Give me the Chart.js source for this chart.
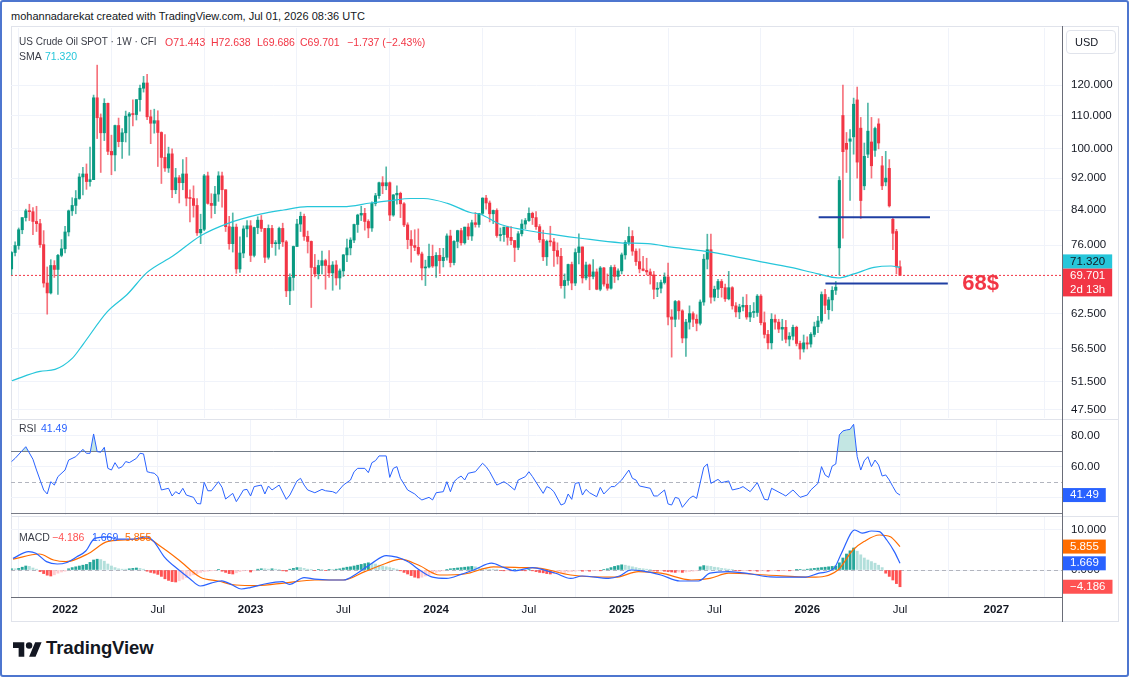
<!DOCTYPE html>
<html>
<head>
<meta charset="utf-8">
<title>US Crude Oil SPOT 1W</title>
<script src="https://cdn.jsdelivr.net/npm/chart.js@4.4.1/dist/chart.umd.min.js"></script>
<style>
    html, body { margin: 0; padding: 0; background: #fff; }
    #wrap { position: relative; width: 1129px; height: 677px; overflow: hidden; font-family: "Liberation Sans", Arial, sans-serif; color: #131722; }
    #frame { position: absolute; left: 0; top: 0; width: 1125px; height: 673px; border: 2px solid #4d76cf; border-radius: 3px; }
    #box { position: absolute; left: 11px; top: 26px; width: 1106px; height: 594px; border: 1px solid #e0e3eb; }
    canvas { position: absolute; left: 0; }
    .t { position: absolute; white-space: pre; font-size: 10.5px; line-height: 14px; }
    .lab { color: #3a3d47; }
    .line { position: absolute; }
    .red { color: #f23645; }
    #usd { position: absolute; left: 1066px; top: 30px; width: 48px; height: 22px; border: 1px solid #e0e3eb; border-radius: 4px; font-size: 11px; line-height: 22px; text-indent: 8px; }
    #logo { position: absolute; left: 13px; top: 642px; }
    #logotext { position: absolute; left: 46px; top: 637px; font-size: 18.5px; font-weight: bold; letter-spacing: -0.1px; }
</style>
</head>
<body>
<div id="wrap">
    <div id="frame"></div>
    <div id="box"></div>
    <canvas id="price" width="1129" height="393" style="top:26px"></canvas>
    <canvas id="rsi" width="1129" height="97" style="top:419px"></canvas>
    <canvas id="macd" width="1129" height="107" style="top:516px"></canvas>

    <div class="line" style="left:11px;top:419px;width:1108px;height:1px;background:#e0e3eb"></div>
    <div class="line" style="left:11px;top:516px;width:1108px;height:1px;background:#e0e3eb"></div>
    <div class="line" style="left:11px;top:597px;width:1051px;height:1px;background:#6a6d78"></div>
    <div class="line" style="left:1062px;top:26px;width:1px;height:596px;background:#6a6d78"></div>

    <div class="t" style="left:11px;top:9px;font-size:11px">mohannadarekat created with TradingView.com, Jul 01, 2026 08:36 UTC</div>
    <div class="t lab" style="left:19px;top:35px;font-size:10px">US Crude Oil SPOT · 1W · CFI</div>
    <div class="t red" style="left:165px;top:35px">O71.443</div>
    <div class="t red" style="left:211px;top:35px">H72.638</div>
    <div class="t red" style="left:257px;top:35px">L69.686</div>
    <div class="t red" style="left:300px;top:35px">C69.701</div>
    <div class="t red" style="left:347px;top:35px">−1.737 (−2.43%)</div>
    <div class="t lab" style="left:19px;top:49px">SMA</div>
    <div class="t" style="left:45px;top:49px;color:#26c6da">71.320</div>
    <div id="usd">USD</div>

    <div class="t lab" style="left:19px;top:421px">RSI</div>
    <div class="t" style="left:41px;top:421px;color:#2962ff">41.49</div>

    <div class="t lab" style="left:19px;top:530px">MACD</div>
    <div class="t" style="left:52px;top:530px;color:#ff5252">−4.186</div>
    <div class="t" style="left:92px;top:530px;color:#2962ff">1.669</div>
    <div class="t" style="left:125px;top:530px;color:#ff6d00">5.855</div>

    <svg id="logo" width="29" height="15" viewBox="0 4 36 18"><path d="M14 22H7V11H0V4h14v18zM28 22h-8l7.5-18h8L28 22z" fill="#131722"/><circle cx="20" cy="8" r="4" fill="#131722"/></svg>
    <div id="logotext">TradingView</div>
</div>
<script>
// time axis: week 0 = week of Sep 20, 2021
const tickWeeks = [15, 41, 67, 93, 119, 145, 171, 197, 223, 249, 276]
const tickLabels = ['2022', 'Jul', '2023', 'Jul', '2024', 'Jul', '2025', 'Jul', '2026', 'Jul', '2027']
const priceTicks = [120, 110, 100, 92, 84, 76, 62.5, 56.5, 51.5, 47.5]

// weekly candles [open, high, low, close]
const candles2021 = [
    [71.0, 74.6, 69.8, 74.4], [74.4, 76.7, 73.7, 75.9], [75.9, 79.8, 75.1, 79.4], [79.4, 82.2, 78.5, 82.2], [82.2, 84.2, 81.4, 83.8],
    [83.8, 85.4, 81.5, 83.6], [83.6, 84.6, 78.3, 81.3], [81.3, 84.9, 79.0, 80.8], [80.8, 81.8, 75.5, 76.1], [76.1, 79.2, 67.4, 68.2],
    [68.2, 71.4, 62.4, 66.3], [66.3, 72.9, 66.1, 71.7], [71.7, 72.7, 69.3, 70.9], [70.9, 74.0, 66.0, 73.8], [73.8, 77.2, 73.5, 75.2]
]
const candles2022 = [
    [75.2, 80.2, 74.3, 78.9], [78.9, 84.0, 78.0, 83.8], [83.8, 87.0, 82.7, 85.1], [85.1, 88.8, 83.1, 86.8], [86.8, 93.2, 86.6, 92.3],
    [92.3, 94.9, 87.7, 93.1], [93.1, 95.8, 89.1, 91.1], [91.1, 100.5, 89.9, 91.6], [91.6, 116.6, 91.6, 115.7], [115.7, 127.0, 103.0, 109.3],
    [109.3, 110.5, 93.5, 104.7], [104.7, 115.4, 102.4, 113.9], [113.9, 114.0, 98.4, 99.3], [99.3, 104.0, 92.9, 98.3], [98.3, 107.0, 93.9, 106.9],
    [106.9, 109.2, 100.6, 102.1], [102.1, 106.0, 97.3, 104.7], [104.7, 111.4, 102.0, 109.8], [109.8, 111.0, 98.2, 110.5], [110.5, 115.0, 106.8, 110.3],
    [110.3, 115.1, 108.6, 115.1], [115.1, 120.0, 111.4, 118.9], [118.9, 123.0, 117.6, 120.7], [120.7, 123.7, 108.7, 109.6], [109.6, 111.7, 101.5, 107.6],
    [107.6, 112.0, 104.6, 108.4], [108.4, 111.5, 95.1, 104.8], [104.8, 105.0, 90.6, 97.6], [97.6, 104.2, 93.8, 94.7], [94.7, 100.5, 93.5, 98.6],
    [98.6, 100.0, 87.0, 89.0], [89.0, 94.6, 88.0, 92.1], [92.1, 92.7, 85.7, 90.8], [90.8, 97.0, 89.0, 93.1], [93.1, 97.6, 85.0, 86.9],
    [86.9, 89.0, 81.2, 86.8], [86.8, 90.0, 82.3, 85.1], [85.1, 86.8, 78.1, 78.7], [78.7, 83.0, 76.3, 79.5], [79.5, 93.0, 79.2, 92.6],
    [92.6, 93.6, 85.4, 85.6], [85.6, 88.0, 82.1, 85.1], [85.1, 89.9, 83.1, 87.9], [87.9, 93.7, 86.1, 92.6], [92.6, 93.6, 84.7, 89.0],
    [89.0, 89.0, 79.0, 80.1], [80.1, 82.5, 75.1, 76.3], [76.3, 83.3, 74.5, 80.0], [80.0, 80.7, 70.1, 71.0], [71.0, 77.8, 70.3, 74.3],
    [74.3, 80.3, 73.3, 79.6], [79.6, 81.5, 77.8, 80.3]
]
const candles2023 = [
    [80.3, 81.5, 72.5, 73.8], [73.8, 80.0, 73.5, 79.9], [79.9, 82.4, 78.5, 81.6], [81.6, 82.7, 79.0, 79.7], [79.7, 79.7, 72.3, 73.4],
    [73.4, 80.5, 73.0, 79.7], [79.7, 80.4, 75.5, 76.3], [76.3, 77.0, 73.8, 76.3], [76.3, 80.0, 75.1, 79.7], [79.7, 80.9, 75.7, 76.7],
    [76.7, 77.0, 65.6, 66.7], [66.7, 70.0, 64.1, 69.3], [69.3, 75.8, 66.8, 75.7], [75.7, 81.8, 75.7, 80.7], [80.7, 83.5, 79.0, 82.5],
    [82.5, 83.0, 77.0, 77.9], [77.9, 79.1, 74.3, 76.8], [76.8, 76.9, 63.6, 71.3], [71.3, 74.0, 69.4, 70.0], [70.0, 72.8, 69.0, 71.7],
    [71.7, 74.7, 70.0, 72.7], [72.7, 73.0, 67.0, 71.7], [71.7, 74.8, 69.3, 70.2], [70.2, 72.5, 66.8, 71.8], [71.8, 72.7, 67.8, 69.2],
    [69.2, 71.0, 67.0, 70.6], [70.6, 74.0, 69.5, 73.9], [73.9, 77.3, 72.5, 75.4], [75.4, 77.6, 73.9, 77.1], [77.1, 80.7, 76.5, 80.6],
    [80.6, 83.0, 78.8, 82.8], [82.8, 84.9, 81.5, 83.2], [83.2, 84.4, 79.3, 81.3], [81.3, 81.7, 77.6, 79.8], [79.8, 86.0, 79.0, 85.6],
    [85.6, 88.1, 85.0, 87.5], [87.5, 91.0, 86.8, 90.8], [90.8, 92.4, 88.0, 90.0], [90.0, 95.0, 89.0, 90.8], [90.8, 91.0, 81.5, 82.8],
    [82.8, 87.8, 82.5, 87.7], [87.7, 90.0, 85.4, 88.1], [88.1, 88.4, 82.2, 85.5], [85.5, 85.8, 80.1, 80.5], [80.5, 81.0, 75.2, 77.2],
    [77.2, 79.2, 72.4, 75.9], [75.9, 79.4, 74.8, 75.5], [75.5, 79.6, 73.8, 74.1], [74.1, 74.5, 68.8, 71.2], [71.2, 72.8, 67.7, 71.4],
    [71.4, 76.2, 71.2, 73.6], [73.6, 76.0, 71.3, 71.6]
]
const candles2024 = [
    [71.6, 74.4, 69.3, 73.8], [73.8, 75.3, 70.1, 72.7], [72.7, 75.3, 71.4, 73.4], [73.4, 78.5, 72.8, 78.0], [78.0, 79.3, 71.4, 72.3],
    [72.3, 77.0, 71.8, 76.8], [76.8, 79.3, 75.4, 79.2], [79.2, 79.7, 76.0, 76.5], [76.5, 80.0, 76.2, 80.0], [80.0, 80.8, 77.2, 78.0],
    [78.0, 81.6, 77.0, 81.0], [81.0, 83.4, 80.0, 80.6], [80.6, 83.2, 80.0, 83.2], [83.2, 87.0, 82.9, 86.9], [86.9, 87.6, 84.2, 85.7],
    [85.7, 86.2, 81.2, 83.1], [83.1, 84.0, 80.8, 83.9], [83.9, 84.3, 77.7, 78.1], [78.1, 79.8, 76.9, 78.3], [78.3, 80.0, 76.8, 80.0],
    [80.0, 80.2, 76.0, 77.7], [77.7, 80.1, 76.1, 77.0], [77.0, 77.0, 72.5, 75.5], [75.5, 79.0, 75.0, 78.5], [78.5, 81.7, 78.0, 80.7],
    [80.7, 82.0, 79.6, 81.5], [81.5, 84.5, 81.3, 83.2], [83.2, 83.5, 80.6, 82.2], [82.2, 83.6, 79.5, 80.1], [80.1, 80.6, 76.6, 77.2],
    [77.2, 79.3, 72.7, 73.5], [73.5, 77.1, 71.7, 76.8], [76.8, 80.2, 75.8, 76.7], [76.7, 77.5, 71.5, 74.8], [74.8, 76.5, 72.0, 73.6],
    [73.6, 75.3, 67.2, 67.7], [67.7, 70.0, 65.3, 68.7], [68.7, 72.0, 67.8, 71.9], [71.9, 72.4, 66.9, 68.2], [68.2, 75.2, 67.7, 74.4],
    [74.4, 78.5, 72.0, 75.6], [75.6, 75.6, 68.2, 69.2], [69.2, 72.4, 68.8, 71.8], [71.8, 72.0, 66.9, 69.5], [69.5, 72.9, 69.0, 70.4],
    [70.4, 71.0, 66.9, 67.0], [67.0, 71.5, 66.7, 71.2], [71.2, 71.3, 67.6, 68.0], [68.0, 70.0, 66.8, 67.2], [67.2, 71.7, 67.0, 71.3],
    [71.3, 71.8, 68.3, 69.5], [69.5, 71.0, 68.8, 70.6], [70.6, 74.3, 70.0, 73.9]
]
const candles2025 = [
    [73.9, 77.0, 73.0, 76.6], [76.6, 80.0, 76.0, 77.9], [77.9, 79.2, 73.8, 74.7], [74.7, 75.2, 71.7, 72.5], [72.5, 75.2, 70.2, 71.0],
    [71.0, 73.6, 70.6, 70.7], [70.7, 73.2, 69.8, 70.4], [70.4, 71.0, 68.0, 69.8], [69.8, 70.5, 65.2, 67.0], [67.0, 68.3, 65.6, 67.2],
    [67.2, 68.8, 66.3, 68.3], [68.3, 70.2, 68.0, 69.4], [69.4, 72.2, 60.5, 61.9], [61.9, 63.2, 55.2, 61.5], [61.5, 64.9, 60.2, 64.7],
    [64.7, 64.9, 61.5, 63.0], [63.0, 63.2, 57.5, 58.3], [58.3, 61.5, 55.3, 61.0], [61.0, 63.9, 59.8, 62.5], [62.5, 62.8, 60.2, 61.5],
    [61.5, 62.3, 59.5, 60.8], [60.8, 65.0, 60.5, 64.6], [64.6, 74.0, 64.0, 73.0], [73.0, 78.4, 71.0, 75.0], [75.0, 78.4, 64.4, 65.5],
    [65.5, 67.6, 64.8, 67.0], [67.0, 68.9, 65.4, 68.5], [68.5, 68.9, 65.5, 67.3], [67.3, 68.0, 64.7, 65.2], [65.2, 70.5, 65.0, 67.3],
    [67.3, 67.5, 63.3, 63.9], [63.9, 64.5, 61.9, 62.8], [62.8, 64.2, 61.6, 63.7], [63.7, 65.5, 63.0, 64.0], [64.0, 66.0, 61.5, 61.9],
    [61.9, 64.0, 61.1, 62.7], [62.7, 64.5, 61.8, 62.7], [62.7, 66.0, 62.0, 65.7], [65.7, 66.0, 60.5, 60.9], [60.9, 62.8, 58.3, 58.9],
    [58.9, 59.6, 56.5, 57.5], [57.5, 62.5, 56.5, 61.5], [61.5, 62.3, 59.8, 61.0], [61.0, 61.5, 59.2, 59.8], [59.8, 61.5, 57.9, 60.1],
    [60.1, 61.3, 57.5, 58.1], [58.1, 59.2, 57.0, 58.6], [58.6, 60.5, 58.0, 60.1], [60.1, 60.3, 57.0, 57.4], [57.4, 57.8, 54.9, 56.5],
    [56.5, 58.8, 56.0, 57.5], [57.5, 58.5, 56.5, 57.3]
]
const candles2026 = [
    [57.3, 59.2, 56.8, 58.9], [58.9, 61.0, 58.5, 60.2], [60.2, 62.0, 59.2, 61.2], [61.2, 66.5, 60.8, 66.0], [66.0, 67.0, 62.5, 64.0],
    [63.2, 65.5, 61.5, 65.0], [65.0, 67.5, 63.0, 66.8], [66.8, 68.5, 66.0, 67.4], [75.4, 92.4, 69.8, 91.4], [110.0, 120.0, 77.5, 99.2],
    [101.6, 104.8, 93.5, 99.9], [102.2, 105.7, 86.3, 102.9], [103.5, 115.6, 98.5, 113.6], [115.0, 119.3, 92.0, 96.3], [106.1, 109.4, 82.0, 86.3],
    [90.0, 101.7, 89.0, 97.9], [98.5, 114.0, 97.5, 105.2], [102.0, 109.4, 92.0, 95.3], [99.6, 106.4, 97.9, 106.0], [107.4, 109.0, 100.0, 101.7],
    [95.3, 97.9, 89.0, 90.0], [91.0, 99.3, 90.0, 92.0], [94.6, 97.0, 84.7, 85.0], [81.8, 82.2, 75.0, 78.6], [79.0, 79.5, 70.0, 71.4],
    [71.443, 72.638, 69.686, 69.701]
]

// SMA (week, value)
const smaWeeks = [0.1, 8, 12.2, 17, 20.1, 26.8, 32.4, 38, 45.3, 52.9, 60.5, 69.7, 76.2, 82.9, 93, 100.6, 106.2, 111.8, 115.5, 122.2,
    128.6, 131.4, 137.1, 143.5, 153, 159.5, 170.7, 178.3, 185.6, 193.2, 199.6, 209.2, 218.4, 226, 231.6, 236.1, 241.7, 246.5, 249]
const smaValues = [51.6, 53.0, 53.3, 55.0, 57.3, 62.8, 66.0, 70.3, 73.7, 78.0, 80.8, 83.0, 84.0, 84.8, 84.8, 85.7, 86.3, 86.8, 86.8, 85.6,
    83.4, 83.0, 80.6, 79.4, 78.2, 77.5, 76.5, 76.3, 75.5, 74.8, 74.0, 72.6, 71.3, 70.0, 69.2, 70.0, 71.3, 71.6, 71.32]

// drawn levels
const levelPrices = [82.3, 68.1]
const levelFrom = [226.2, 228.1]
const levelTo = [257.4, 262.4]
const noteText = '68$'
const noteWeek = 271.6
const notePrice = 68.1

// RSI
const rsiWeeks = [0, 1, 4, 6, 7, 9, 10, 11, 12, 13, 15, 16, 18, 20, 21, 22, 23, 24, 25, 26,
    27, 28, 29, 30, 31, 32, 33, 35, 36, 37, 38, 39, 40, 41, 42, 44, 45, 46, 47, 48,
    49, 51, 52, 53, 54, 55, 56, 58, 59, 60, 62, 63, 64, 65, 66, 67, 68, 70, 71, 72,
    73, 75, 77, 78, 80, 81, 82, 83, 85, 87, 88, 90, 91, 93, 95, 96, 97, 99, 100, 101,
    102, 103, 105, 106, 107, 108, 109, 111, 113, 114, 115, 117, 118, 119, 121, 122, 123, 124, 125, 126,
    127, 128, 130, 132, 133, 134, 136, 138, 139, 141, 142, 144, 145, 146, 149, 150, 151, 152, 154, 155,
    156, 157, 158, 159, 160, 161, 162, 164, 165, 166, 168, 169, 171, 173, 174, 175, 176, 179, 180, 181,
    183, 184, 185, 186, 187, 188, 190, 191, 192, 194, 195, 196, 198, 199, 201, 202, 204, 205, 207, 209,
    210, 211, 212, 213, 216, 217, 219, 221, 223, 224, 226, 227, 228, 229, 230, 231, 232, 233, 234, 235,
    236, 237, 238, 239, 240, 241, 242, 243, 244, 245, 246, 247, 248, 249]
const rsiValues = [63.3, 65.4, 73, 64.8, 57.8, 44.8, 42.2, 50.2, 48, 53.5, 57.8, 64.3, 66.5, 71.3, 68.7, 68.7, 81.3, 69.8, 69.4, 72.6,
    58.9, 57.8, 62.6, 58.9, 60, 63.3, 62.6, 65.4, 68.7, 68.3, 56.7, 56.1, 55.7, 53.5, 44.8, 45.9, 40.9, 43.7, 42.2, 45.9,
    41.5, 40, 36, 35.7, 49.8, 44.3, 44.3, 50.2, 46.5, 38.9, 42.6, 37.2, 40.9, 44.8, 45.2, 40.9, 47, 48, 42.2, 47.4,
    44.8, 48, 38.7, 41.5, 50.7, 52.4, 48, 44.8, 43, 45.2, 44.3, 43.7, 42.6, 48, 51.3, 56.7, 58.9, 58.9, 56.1, 62.6,
    63.9, 67, 67, 53, 58.9, 60, 52.4, 44.8, 42.2, 40, 38.3, 40, 38.3, 43, 43.7, 50.2, 43.7, 50.2, 52.4, 53.9,
    51.3, 55.7, 56.7, 62.2, 60, 56.7, 48, 50.2, 48.7, 44.8, 51.3, 53.5, 56.7, 53.5, 42.6, 47, 45.9, 43.7, 35, 36,
    42.2, 38.7, 49.1, 49.6, 41.5, 45.2, 43, 40.4, 46.5, 42.2, 47, 47, 51.3, 57.8, 52.4, 51.3, 47.4, 45.9, 40.9, 40.9,
    44.8, 35.7, 35, 40, 39.3, 33.5, 39.3, 40.9, 39.3, 59.6, 61.7, 49.1, 51.7, 49.6, 50.7, 44.8, 45.9, 47, 43.7, 49.6,
    44.1, 38.7, 38.3, 45.9, 42.2, 40.9, 44.8, 40, 41.5, 44.8, 49.1, 60, 54.6, 53, 60.4, 61.7, 80.7, 83.3, 83.9, 84.3,
    87.6, 66.5, 57.8, 63.9, 66.5, 60, 64.3, 61.1, 53.9, 54.6, 51.3, 47, 43, 41.49]
const rsiBands = [70, 50, 30]

// MACD
const macdWeeks = [0.4, 4.8, 6.8, 9.8, 12.8, 15.3, 18.3, 20.8, 23.3, 26.8, 29.9, 33.8, 37.9, 39.9, 42.8, 46.9, 49.9, 52.9, 55.9, 58.9,
    61.9, 64.4, 66.9, 70.9, 75.9, 77.9, 82, 85, 89, 93, 96.9, 101, 105, 108, 111, 115, 118, 121.9, 126, 130,
    134.5, 138.1, 141.1, 146, 150.1, 152.5, 156.7, 159.9, 167.3, 170.4, 173.6, 176.7, 182, 187.3, 192.6, 195.7, 201, 207.3, 212.6, 222.1,
    226.3, 230.5, 232.6, 236.3, 238.4, 241, 243.2, 245.3, 247.4, 249]
const macdValues = [2.9, 4.6, 4.2, 2.1, 1.5, 1.8, 3.3, 4.75, 7.9, 8.3, 7.7, 7.7, 8.3, 7.1, 3.3, 0, -2.1, -4, -3.3, -2.7,
    -3.75, -4.75, -4.4, -3.5, -2.9, -3.6, -1.9, -2.3, -2.5, -2.5, -0.8, 1.7, 3.6, 3.2, 2.1, -0.4, -1.8, -2.1, -1.1, 0.2,
    1.7, 0.6, -0.2, 0.6, -0.2, -0.8, -2.1, -1.5, -2.1, -1.5, 0, -0.2, -1.25, -2.75, -2.75, -0.8, -0.4, -1, -1.7, -1.8,
    -0.8, 0.4, 4.2, 10, 9.2, 9.75, 9.6, 7.5, 4.6, 1.669]
const signalWeeks = [0.4, 7.8, 11.8, 15.3, 21.7, 26.8, 31.8, 37.9, 41.9, 46.9, 52.9, 57.9, 62.9, 68.9, 76.9, 85, 93, 99, 105, 109,
    114, 120, 127, 135.1, 143.1, 148.3, 156.7, 169.3, 175.7, 182, 190.5, 195.7, 201, 211.5, 224.2, 231.6, 235.8, 238.9, 243.2, 246.3, 249]
const signalValues = [2.7, 4, 2.5, 2.1, 4.2, 7.1, 7.5, 7.9, 5.8, 2.5, -1.8, -2.75, -3.75, -3.9, -3.2, -2.5, -2.5, -0.4, 1.7, 2.7,
    1.25, -1.25, -1, 0.8, 0.6, 0.4, -1.25, -1.8, -0.4, -0.8, -2.5, -2.1, -0.8, -1.25, -1.8, 0, 5, 7.1, 8.75, 8.3, 5.855]
const histValues = [
    0.3, 0.3, 0.4, 0.7, 1.0, 0.9, 0.5, 0.2, -0.4, -0.9,
    -1.3, -1.5, -1.2, -0.8, -0.5, -0.3, 0.3, 0.6, 0.8, 1.0,
    1.2, 1.4, 1.9, 2.5, 2.7, 2.6, 2.2, 1.5, 1.0, 0.6,
    0.3, 0.2, 0.2, 0.3, 0.4, 0.5, 0.4, 0.2, -0.3, -0.6,
    -0.8, -1.1, -1.6, -2.2, -2.6, -2.9, -3.0, -2.7, -2.3, -1.9,
    -1.5, -1.2, -0.9, -0.6, -0.4, -0.3, -0.2, -0.1, 0.1, -0.3,
    -0.6, -0.9, -1.0, -0.7, -0.4, -0.2, -0.1, -0.5, -0.2, 0.2,
    0.3, 0.3, 0.2, 0.3, 0.2, 0.1, -0.2, -0.3, 0.2, 0.4,
    0.6, 0.6, 0.4, 0.2, 0.1, -0.1, 0.1, 0.05, -0.1, 0.1,
    0.1, 0.2, 0.3, 0.5, 0.7, 0.8, 1.0, 1.2, 1.4, 1.6,
    1.8, 1.7, 1.5, 1.2, 1.0, 0.8, 0.6, 0.4, 0.2, -0.2,
    -0.6, -1.0, -1.4, -1.8, -2.0, -1.8, -1.5, -1.2, -0.9, -0.6,
    -0.4, -0.2, 0.1, 0.3, 0.4, 0.5, 0.6, 0.7, 0.8, 0.9,
    0.8, 0.6, 0.4, 0.3, 0.2, 0.2, 0.1, -0.1, -0.2, -0.1,
    -0.2, 0.1, 0.1, -0.1, -0.2, 0.1, -0.2, -0.4, -0.6, -0.7,
    -0.9, -1.0, -0.9, -0.8, -0.7, -0.6, -0.5, -0.4, -0.3, -0.2,
    -0.3, -0.2, -0.3, -0.2, -0.1, -0.2, 0.1, 0.3, 0.6, 0.9,
    1.1, 1.3, 1.2, 1.0, 0.8, 0.6, 0.4, 0.3, 0.2, 0.1,
    -0.2, -0.3, -0.2, -0.3, -0.4, -0.5, -0.6, -0.5, -0.6, -0.5,
    -0.4, -0.3, -0.2, 0.8, 1.1, 1.0, 0.9, 0.7, 0.6, 0.4,
    0.3, 0.2, 0.1, -0.1, -0.2, -0.2, -0.1, -0.2, -0.2, -0.3,
    -0.2, -0.2, -0.3, -0.2, -0.1, -0.2, -0.1, -0.1, -0.2, -0.1,
    0.05, 0.1, 0.1, 0.2, 0.3, 0.4, 0.5, 0.6, 0.7, 0.8,
    0.9, 1.0, 1.8, 3.0, 4.0, 4.8, 5.5, 4.7, 3.8, 3.0,
    2.5, 2.1, 1.7, 1.2, 0.6, -0.8, -1.6, -2.5, -3.4, -4.186
]

const ohlc = [...candles2021, ...candles2022, ...candles2023, ...candles2024, ...candles2025, ...candles2026]
const lastClose = ohlc[ohlc.length - 1][3]

const X_MIN = -0.15, X_MAX = 294.4
const FONT = '"Liberation Sans", Arial, sans-serif'
const GRID = '#f0f3fa'

Chart.defaults.font.family = FONT
Chart.defaults.font.size = 11.5
Chart.defaults.color = '#131722'
Chart.defaults.animation = false

const xAxis = labels => ({
    type: 'linear',
    min: X_MIN,
    max: X_MAX,
    offset: false,
    afterBuildTicks: s => { s.ticks = tickWeeks.map(v => ({ value: v })) },
    afterFit: s => {
        s.height = labels ? 25 : 0
        s.paddingLeft = 0
        s.paddingRight = 0
    },
    grid: { color: GRID, drawTicks: false },
    border: { display: false },
    ticks: {
        display: labels,
        autoSkip: false,
        maxRotation: 0,
        padding: 6,
        callback: (v, i) => tickLabels[i],
        font: c => ({ size: 11.5, weight: /^\d/.test(tickLabels[c.index] || '') ? 'bold' : 'normal' })
    }
})

const yTicks = (values, fmt) => ({
    position: 'right',
    afterBuildTicks: s => { s.ticks = values.map(v => ({ value: v })) },
    afterFit: s => {
        s.width = 57
        s.paddingTop = 0
        s.paddingBottom = 0
    },
    grid: { color: GRID, drawTicks: false },
    border: { display: false },
    ticks: { padding: 9, crossAlign: 'near', callback: fmt }
})

// horizontal guide lines (bands, zero line)
const guides = lines => ({
    id: 'guides',
    beforeDatasetsDraw(chart) {
        const { ctx, chartArea: a, scales: { y } } = chart
        lines.forEach(l => {
            const py = Math.round(y.getPixelForValue(l.value)) + 0.5
            ctx.save()
            ctx.strokeStyle = l.color
            ctx.lineWidth = 1
            ctx.setLineDash(l.dash || [])
            ctx.beginPath()
            ctx.moveTo(a.left, py)
            ctx.lineTo(a.right, py)
            ctx.stroke()
            ctx.restore()
        })
    }
})

// value tags on the price scale
const tags = list => ({
    id: 'tags',
    afterDraw(chart) {
        const { ctx, chartArea: a, scales: { y } } = chart
        const lh = 14
        let placed = []
        ctx.save()
        ctx.font = '11.5px ' + FONT
        ctx.textBaseline = 'middle'
        list.forEach(t => {
            const h = t.lines.length * lh
            let top = y.getPixelForValue(t.value) - lh / 2
            placed.forEach(p => {
                if (top < p.bottom - 3 && top + h > p.top + 3) top = p.top - h
            })
            const w = Math.max(...t.lines.map(s => ctx.measureText(s).width)) + 14
            ctx.fillStyle = t.bg
            ctx.fillRect(a.right + 1, top, w, h)
            ctx.fillStyle = t.fg
            t.lines.forEach((s, k) => ctx.fillText(s, a.right + 8, top + lh / 2 + k * lh))
            placed.push({ top, bottom: top + h })
        })
        ctx.restore()
    }
})

const note = {
    id: 'note',
    afterDatasetsDraw(chart) {
        const { ctx, scales: { x, y } } = chart
        ctx.save()
        ctx.font = 'bold 22px ' + FONT
        ctx.fillStyle = '#f23645'
        ctx.textAlign = 'center'
        ctx.textBaseline = 'middle'
        ctx.fillText(noteText, x.getPixelForValue(noteWeek), y.getPixelForValue(notePrice))
        ctx.restore()
    }
}

const isUp = c => c[3] >= c[0]

new Chart(document.getElementById('price'), {
    type: 'bar',
    data: {
        datasets: [
            {
                type: 'line',
                data: [{ x: X_MIN, y: lastClose }, { x: X_MAX, y: lastClose }],
                borderColor: '#f23645',
                borderWidth: 1,
                borderDash: [2, 2],
                pointRadius: 0,
                order: 5
            },
            {
                data: ohlc.map((c, i) => ({ x: i, y: [c[2], c[1]] })),
                backgroundColor: ohlc.map(c => isUp(c) ? 'rgba(8,153,129,0.7)' : 'rgba(242,54,69,0.7)'),
                barThickness: 1,
                grouped: false,
                order: 4
            },
            {
                data: ohlc.map((c, i) => ({ x: i, y: [c[0], c[3]] })),
                backgroundColor: ohlc.map(c => isUp(c) ? '#089981' : '#f23645'),
                barThickness: 2.4,
                minBarLength: 1,
                grouped: false,
                order: 3
            },
            {
                type: 'line',
                data: smaWeeks.map((w, i) => ({ x: w, y: smaValues[i] })),
                borderColor: '#26c6da',
                borderWidth: 1.2,
                pointRadius: 0,
                cubicInterpolationMode: 'monotone',
                order: 2
            },
            ...levelPrices.map((p, k) => ({
                type: 'line',
                data: [{ x: levelFrom[k], y: p }, { x: levelTo[k], y: p }],
                borderColor: '#1f3fa3',
                borderWidth: 2,
                pointRadius: 0,
                order: 1
            }))
        ]
    },
    options: {
        responsive: false,
        layout: { padding: { left: 11, right: 10, top: 2, bottom: 1 } },
        plugins: { legend: { display: false }, tooltip: { enabled: false } },
        scales: {
            x: xAxis(false),
            y: Object.assign(yTicks(priceTicks, v => v.toFixed(3)), { type: 'logarithmic', min: 46.4, max: 141.2 })
        }
    },
    plugins: [
        note,
        tags([
            { value: lastClose, lines: ['69.701', '2d 13h'], bg: '#f23645', fg: '#ffffff' },
            { value: 71.32, lines: ['71.320'], bg: '#26c6da', fg: '#131722' }
        ])
    ]
})

new Chart(document.getElementById('rsi'), {
    type: 'line',
    data: {
        datasets: [{
            data: rsiWeeks.map((w, i) => ({ x: w, y: rsiValues[i] })),
            borderColor: '#2962ff',
            borderWidth: 1,
            pointRadius: 0,
            fill: { target: { value: 70 }, above: 'rgba(38,166,154,0.28)', below: 'rgba(0,0,0,0)' }
        }]
    },
    options: {
        responsive: false,
        layout: { padding: { left: 11, right: 10, top: 1, bottom: 1 } },
        plugins: { legend: { display: false }, tooltip: { enabled: false } },
        scales: {
            x: xAxis(false),
            y: Object.assign(yTicks([40, 60, 80], v => v === 40 ? '' : v.toFixed(2)), { type: 'linear', min: 28.5, max: 90.4 })
        }
    },
    plugins: [
        guides(rsiBands.map(v => ({ value: v, color: v === 50 ? '#b2b5be' : '#787b86', dash: v === 50 ? [4, 3] : [] }))),
        tags([{ value: 41.49, lines: ['41.49'], bg: '#2962ff', fg: '#ffffff' }])
    ]
})

new Chart(document.getElementById('macd'), {
    type: 'bar',
    data: {
        datasets: [
            {
                data: histValues.map((v, i) => ({ x: i, y: v })),
                backgroundColor: histValues.map((v, i) => {
                    const prev = i ? histValues[i - 1] : 0
                    if (v >= 0) return v > prev ? '#26a69a' : '#b2dfdb'
                    return v < prev ? '#ff5252' : '#ffcdd2'
                }),
                barThickness: 2.2,
                grouped: false,
                order: 3
            },
            {
                type: 'line',
                data: signalWeeks.map((w, i) => ({ x: w, y: signalValues[i] })),
                borderColor: '#ff6d00',
                borderWidth: 1.2,
                pointRadius: 0,
                cubicInterpolationMode: 'monotone',
                order: 2
            },
            {
                type: 'line',
                data: macdWeeks.map((w, i) => ({ x: w, y: macdValues[i] })),
                borderColor: '#2962ff',
                borderWidth: 1.2,
                pointRadius: 0,
                cubicInterpolationMode: 'monotone',
                order: 1
            }
        ]
    },
    options: {
        responsive: false,
        layout: { padding: { left: 11, right: 10, top: 1, bottom: 1 } },
        plugins: { legend: { display: false }, tooltip: { enabled: false } },
        scales: {
            x: xAxis(true),
            y: Object.assign(yTicks([0, 10], v => v.toFixed(3)), { type: 'linear', min: -6.75, max: 13.25 })
        }
    },
    plugins: [
        guides([{ value: 0, color: '#b2b5be', dash: [4, 3] }]),
        tags([
            { value: 5.855, lines: ['5.855'], bg: '#ff6d00', fg: '#ffffff' },
            { value: 1.669, lines: ['1.669'], bg: '#2962ff', fg: '#ffffff' },
            { value: -4.186, lines: ['−4.186'], bg: '#ff5252', fg: '#ffffff' }
        ])
    ]
})
</script>
</body>
</html>
